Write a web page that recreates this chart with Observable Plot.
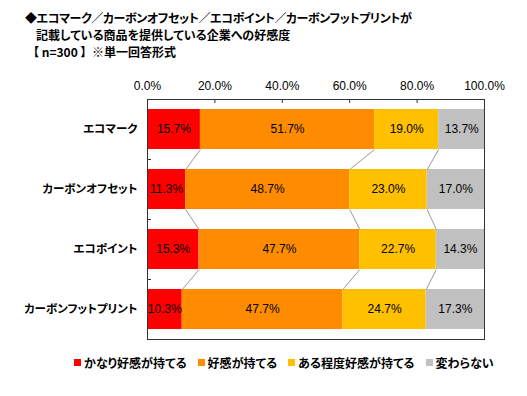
<!DOCTYPE html>
<html><head><meta charset="utf-8">
<script src="https://cdn.jsdelivr.net/npm/d3@7"></script>
<script src="https://cdn.jsdelivr.net/npm/@observablehq/plot@0.6"></script>
<style>
body{margin:0;background:#fff;}
#wrap{position:relative;width:527px;height:396px;overflow:hidden;font-family:"Noto Sans CJK JP",sans-serif;}
#chart{position:absolute;left:0;top:0;}
#title{position:absolute;left:25px;top:9px;font-size:12px;font-weight:bold;line-height:17px;font-feature-settings:"palt";white-space:nowrap;color:#000;}
#title .l1{letter-spacing:-0.4px;}
#title .l2{padding-left:11px;}
#title .l3{padding-left:8px;}
#legend{position:absolute;top:354px;left:74px;display:flex;gap:11px;font-size:12px;font-weight:bold;font-feature-settings:"palt";white-space:nowrap;align-items:center;color:#000;}
#legend .item{display:flex;align-items:center;gap:3px;}
#legend .sw{width:7px;height:7px;display:inline-block;}
</style>
</head><body>
<div id="wrap">
  <div id="chart"></div>
  <div id="title">
    <div class="l1">◆エコマーク／カーボンオフセット／エコポイント／カーボンフットプリントが</div>
    <div class="l2">記載している商品を提供している企業への好感度</div>
    <div class="l3">【 n=300 】 &nbsp;※単一回答形式</div>
  </div>
  <div id="legend"></div>
</div>
<script>
const categories = ["エコマーク", "カーボンオフセット", "エコポイント", "カーボンフットプリント"];
const seriesNames = ["かなり好感が持てる", "好感が持てる", "ある程度好感が持てる", "変わらない"];
const veryGood = [15.7, 11.3, 15.3, 10.3];
const good = [51.7, 48.7, 47.7, 47.7];
const somewhat = [19.0, 23.0, 22.7, 24.7];
const noChange = [13.7, 17.0, 14.3, 17.3];
const colors = ["#FF0000", "#FF8C00", "#FFC000", "#C0C0C0"];
const xTicks = [0, 20, 40, 60, 80, 100];

const series = [veryGood, good, somewhat, noChange];
const half = 1 / 3;
const segs = [];
const cums = [];
categories.forEach((c, i) => {
  let cum = 0;
  const row = [0];
  series.forEach((vals, s) => {
    const v = vals[i];
    segs.push({i, s, v, x1: cum, x2: cum + v, color: colors[s]});
    cum += v;
    row.push(cum);
  });
  cums.push(row);
});
const links = [];
for (let s = 1; s <= 3; s++) {
  for (let i = 0; i < categories.length - 1; i++) {
    links.push({x1: cums[i][s], y1: i + half, x2: cums[i + 1][s], y2: i + 1 - half});
  }
}

const chart = Plot.plot({
  width: 527, height: 396,
  marginLeft: 147, marginRight: 43, marginTop: 99, marginBottom: 57,
  x: {domain: [0, 100]},
  y: {domain: [-0.5, 3.5], reverse: true},
  color: {type: "identity"},
  style: {fontFamily: "'Noto Sans CJK JP', sans-serif", fontSize: "12px", color: "#000", background: "transparent", fontFeatureSettings: '"palt"'},
  marks: [
    Plot.rect(segs, {x1: "x1", x2: "x2", y1: d => d.i - half, y2: d => d.i + half, fill: "color", clip: true}),
    Plot.link(links, {x1: "x1", y1: "y1", x2: "x2", y2: "y2", stroke: "#808080", strokeWidth: 0.8}),
    Plot.text(segs, {x: d => (d.x1 + d.x2) / 2, y: "i", text: d => d.v.toFixed(1) + "%", fontFamily: "'Liberation Sans', Arial, sans-serif", fontSize: 12, fill: "#000"}),
    Plot.frame({stroke: "#333"}),
    Plot.axisX({anchor: "top", ticks: xTicks, tickFormat: d => d.toFixed(1) + "%", tickSize: 0, tickPadding: 10, fontFamily: "'Liberation Sans', Arial, sans-serif", fontSize: 12, label: null}),
    Plot.ruleX(xTicks.slice(1, -1), {x: d => d, y1: -0.5, y2: -0.5 + 4 / 60, stroke: "#333"}),
    Plot.axisY({anchor: "left", ticks: [0, 1, 2, 3], tickFormat: i => categories[i], tickSize: 0, tickPadding: 10, fontWeight: "bold", fontSize: 11.5, label: null}),
    Plot.ruleY([0.5, 1.5, 2.5], {y: d => d, x1: 0, x2: 1.2, stroke: "#333"})
  ]
});
document.getElementById("chart").appendChild(chart);

const legend = document.getElementById("legend");
seriesNames.forEach((name, s) => {
  const item = document.createElement("div");
  item.className = "item";
  const sw = document.createElement("span");
  sw.className = "sw";
  sw.style.background = colors[s];
  const t = document.createElement("span");
  t.textContent = name;
  item.appendChild(sw);
  item.appendChild(t);
  legend.appendChild(item);
});
</script>
</body></html>
